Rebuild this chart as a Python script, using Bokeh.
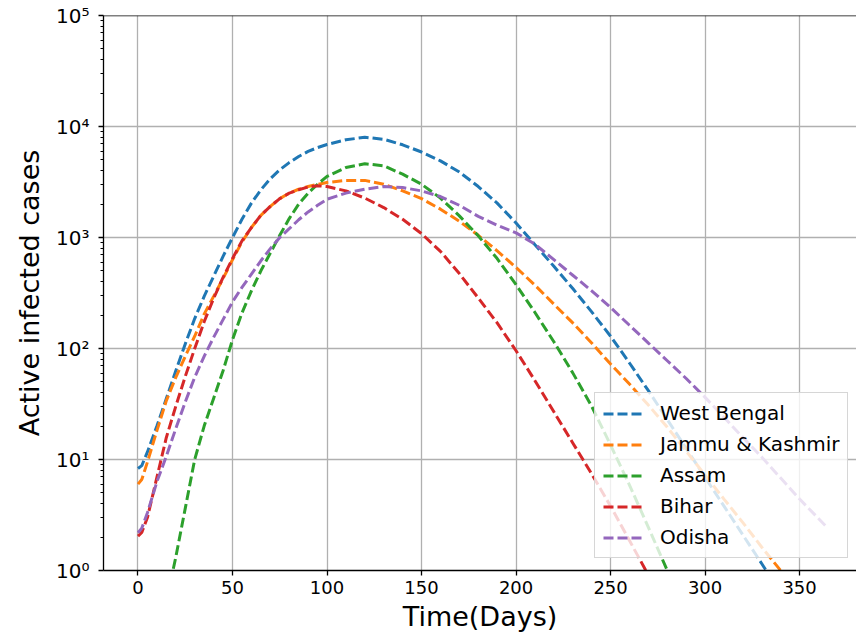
from bokeh.plotting import figure
from bokeh.models import Range1d, FixedTicker, CustomJSTickFormatter, Span
from bokeh.embed import file_html
from bokeh.resources import INLINE

# ---- data ----
days = [0, 2, 5, 10, 15, 20, 25, 30, 35, 40, 45, 50, 55, 60, 65, 70, 75, 80, 85, 90, 95,
        100, 110, 120, 130, 140, 150, 160, 170, 180, 190, 200, 210, 220, 230, 240,
        250, 260, 270, 280, 290, 300, 310, 320, 330, 340, 350, 365]

west_bengal = [8.3, 8.8, 11.7, 20, 35.5, 63, 110, 186, 295, 447, 676, 1000, 1460, 2040,
               2690, 3390, 4070, 4730, 5370, 5960, 6460, 6890, 7590, 8000, 7670, 6840,
               5890, 4900, 3890, 2880, 2040, 1350, 861, 550, 347, 214, 129, 74, 41.7,
               22.9, 12.6, 6.9, 3.8, 2.09, 1.15, 0.63, 0.347, 0.141]

jammu_kashmir = [6.0, 6.6, 9.5, 18.2, 33.9, 55, 85, 129, 204, 295, 427, 631, 912, 1230,
                 1585, 1905, 2240, 2510, 2720, 2880, 3010, 3130, 3270, 3270, 3020, 2630,
                 2240, 1800, 1400, 1047, 759, 537, 372, 251, 170, 112, 72.4, 47.9, 30.9,
                 19.5, 11.9, 7.24, 4.4, 2.7, 1.62, 1.0, 0.62, 0.29]

assam = [0.063, 0.071, 0.112, 0.224, 0.525, 1.32, 3.63, 10, 20, 35.5, 63, 120, 209, 331,
         501, 724, 1047, 1480, 2000, 2510, 3020, 3550, 4270, 4620, 4420, 3720, 3020,
         2265, 1567, 1035, 646, 376, 211, 115, 60.3, 30.2, 13.5, 5.89, 2.45, 1.0, 0.42,
         0.18, 0.075, 0.03, 0.012, 0.005, 0.002, 0.0005]

bihar = [2.04, 2.2, 3.0, 6.9, 15.8, 30.2, 56, 100, 174, 282, 437, 646, 933, 1230, 1585,
         1905, 2240, 2510, 2690, 2850, 2920, 2880, 2630, 2265, 1860, 1460, 1084, 750,
         473, 285, 170, 95.5, 51.3, 26.9, 14.1, 7.41, 3.80, 1.86, 0.91, 0.44, 0.21, 0.1,
         0.05, 0.025, 0.012, 0.006, 0.003, 0.001]

odisha = [2.19, 2.4, 3.31, 6.3, 10.7, 19, 33, 55, 85, 126, 182, 263, 355, 468, 617, 794,
          1000, 1200, 1445, 1700, 1950, 2210, 2510, 2720, 2880, 2820, 2630, 2340, 1950,
          1550, 1290, 1100, 871, 631, 457, 331, 234, 162, 112, 77.6, 53.7, 36.3, 24,
          15.8, 10.5, 6.8, 4.4, 2.4]

series_names = ["West Bengal", "Jammu & Kashmir", "Assam", "Bihar", "Odisha"]
series_values = [west_bengal, jammu_kashmir, assam, bihar, odisha]
colors = ["#1f77b4", "#ff7f0e", "#2ca02c", "#d62728", "#9467bd"]

x_ticks = [0, 50, 100, 150, 200, 250, 300, 350]
y_ticks = [1, 10, 100, 1000, 10000, 100000]

FONT = "DejaVu Sans"

p = figure(width=856, height=642,
           x_range=Range1d(-18.25, 380.1), y_range=Range1d(1, 1e5),
           y_axis_type="log", output_backend="svg", toolbar_location=None,
           min_border_left=103, min_border_right=0, min_border_top=15,
           min_border_bottom=72)
p.outline_line_color = None
p.background_fill_color = "white"
p.border_fill_color = "white"

for name, vals, c in zip(series_names, series_values, colors):
    p.line(days, vals, line_color=c, line_width=3, line_dash="10 4",
           legend_label=name)

# axes
p.xaxis.ticker = FixedTicker(ticks=x_ticks, minor_ticks=[])
minor = [m * d for d in y_ticks[:-1] for m in range(2, 10)]
p.yaxis.ticker = FixedTicker(ticks=y_ticks, minor_ticks=minor)
p.yaxis.formatter = CustomJSTickFormatter(code=r'''
const sup = ["\u2070", "\u00b9", "\u00b2", "\u00b3", "\u2074", "\u2075"];
const e = Math.round(Math.log10(tick));
return "10" + sup[e];
''')

for ax in (p.xaxis[0], p.yaxis[0]):
    ax.axis_line_color = "black"
    ax.axis_line_width = 1.3
    ax.major_tick_line_color = "black"
    ax.major_tick_line_width = 1.3
    ax.major_tick_in = 0
    ax.major_tick_out = 5
    ax.minor_tick_line_color = "black"
    ax.minor_tick_line_width = 1
    ax.minor_tick_in = 0
    ax.minor_tick_out = 3
    ax.major_label_text_font = FONT
    ax.major_label_text_color = "black"
    ax.axis_label_text_font = FONT
    ax.axis_label_text_font_size = "27px"
    ax.axis_label_text_font_style = "normal"
    ax.axis_label_text_color = "black"

p.xaxis.major_label_text_font_size = "18px"
p.yaxis.major_label_text_font_size = "20px"
p.xaxis.major_label_standoff = 5
p.yaxis.major_label_standoff = 9

p.xaxis.axis_label = "Time(Days)"
p.xaxis.axis_label_standoff = 4
p.yaxis.axis_label = "Active infected cases"
p.yaxis.axis_label_standoff = 8

# grid
p.xgrid.grid_line_color = "#b0b0b0"
p.ygrid.grid_line_color = "#b0b0b0"
p.xgrid.grid_line_width = 1.3
p.ygrid.grid_line_width = 1.3
p.ygrid.minor_grid_line_color = None

# top spine
p.add_layout(Span(location=1e5, dimension="width", line_color="black", line_width=1.3))

# legend
lg = p.legend[0]
lg.location = (491, 12)
lg.label_text_font = FONT
lg.label_text_font_size = "20px"
lg.label_text_color = "black"
lg.glyph_width = 41
lg.glyph_height = 21
lg.label_height = 21
lg.label_standoff = 16
lg.padding = 8
lg.spacing = 7
lg.margin = 0
lg.border_line_color = "#cccccc"
lg.border_line_alpha = 0.8
lg.border_line_width = 1
lg.background_fill_color = "white"
lg.background_fill_alpha = 0.8

open("out.html", "w").write(file_html(p, INLINE))
